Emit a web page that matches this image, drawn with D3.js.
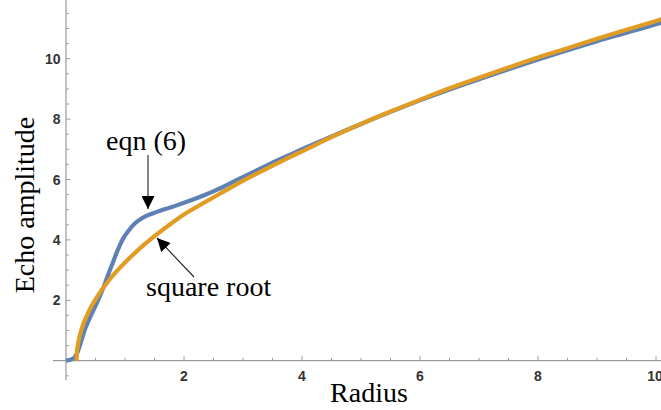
<!DOCTYPE html>
<html>
<head>
<meta charset="utf-8">
<script src="https://cdn.jsdelivr.net/npm/d3@7"></script>
<style>
	body { margin: 0; background: #fff; }
	svg { display: block; }
</style>
</head>
<body>
<div id="chart"></div>
<script>
// values
const eqnX = [0, 0.1, 0.15, 0.2, 0.25, 0.32, 0.4, 0.49, 0.57, 0.65, 0.72, 0.8, 0.88, 0.97, 1.07, 1.17, 1.28, 1.39, 1.53, 1.68, 1.9, 2.13, 2.33, 2.6, 2.89, 3.2, 3.46, 3.75, 4.02, 4.59, 5.04, 5.5, 6, 6.5, 7, 7.5, 8, 8.5, 9, 9.5, 10, 10.1]
const eqnY = [0, 0.05, 0.12, 0.3, 0.6, 1.03, 1.4, 1.77, 2.12, 2.5, 2.88, 3.28, 3.68, 4.05, 4.33, 4.55, 4.71, 4.82, 4.92, 5.02, 5.16, 5.32, 5.47, 5.7, 5.98, 6.27, 6.52, 6.78, 7.02, 7.5, 7.87, 8.24, 8.62, 8.98, 9.32, 9.65, 9.97, 10.28, 10.58, 10.86, 11.14, 11.2]

const sqrtX = [0.18, 0.185, 0.2, 0.22, 0.25, 0.29, 0.35, 0.42, 0.5, 0.6, 0.7, 0.8, 0.94, 1.1, 1.3, 1.51, 1.76, 2.0, 2.33, 2.6, 2.89, 3.2, 3.46, 3.75, 4.02, 4.5, 5.0, 5.5, 6.0, 6.5, 7.0, 7.5, 8.0, 8.5, 9.0, 9.5, 10.0, 10.1]
const sqrtY = [0, 0.3, 0.5, 0.72, 0.95, 1.2, 1.48, 1.76, 2.03, 2.33, 2.59, 2.83, 3.13, 3.44, 3.8, 4.14, 4.51, 4.84, 5.22, 5.52, 5.84, 6.16, 6.42, 6.7, 6.95, 7.4, 7.84, 8.25, 8.64, 9.02, 9.37, 9.71, 10.04, 10.35, 10.66, 10.96, 11.25, 11.31]

const xTicks = [2, 4, 6, 8, 10]
const yTicks = [2, 4, 6, 8, 10]

const width = 661
const height = 410

const x = d3.scaleLinear().domain([0, 10]).range([66, 656])
const y = d3.scaleLinear().domain([0, 10]).range([360.7, 58.7])

const svg = d3.select('#chart')
	.append('svg')
	.attr('width', width)
	.attr('height', height)

const axisColor = '#9a9a9a'
const tickFont = 'Liberation Sans, Arial, sans-serif'
const serif = 'Liberation Serif, Times New Roman, serif'

// minor ticks every 0.5
const minorX = d3.range(0.5, 10.01, 0.5).filter(v => !xTicks.includes(v))
const minorY = d3.range(-0.5, 11.51, 0.5).filter(v => v !== 0 && !yTicks.includes(v))

const axes = svg.append('g')

// x axis
axes.append('line')
	.attr('x1', x(-0.22)).attr('x2', width)
	.attr('y1', y(0)).attr('y2', y(0))
	.attr('stroke', axisColor).attr('stroke-width', 1.2)

axes.append('g').selectAll('line')
	.data(xTicks.concat(minorX))
	.join('line')
	.attr('x1', d => x(d)).attr('x2', d => x(d))
	.attr('y1', y(0))
	.attr('y2', d => y(0) - (xTicks.includes(d) ? 4.5 : 2.8))
	.attr('stroke', axisColor)

axes.append('g').selectAll('text')
	.data(xTicks)
	.join('text')
	.attr('x', d => d === 10 ? x(d) - 1 : x(d))
	.attr('y', 380.5)
	.attr('text-anchor', 'middle')
	.attr('font-family', tickFont)
	.attr('font-weight', 'bold')
	.attr('font-size', 14)
	.attr('fill', '#333')
	.text(d => d)

// y axis
axes.append('line')
	.attr('x1', x(0)).attr('x2', x(0))
	.attr('y1', y(-0.65)).attr('y2', 0)
	.attr('stroke', axisColor).attr('stroke-width', 1.2)

axes.append('g').selectAll('line')
	.data(yTicks.concat(minorY))
	.join('line')
	.attr('x1', x(0))
	.attr('x2', d => x(0) + (yTicks.includes(d) ? 4.5 : 2.8))
	.attr('y1', d => y(d)).attr('y2', d => y(d))
	.attr('stroke', axisColor)

axes.append('g').selectAll('text')
	.data(yTicks)
	.join('text')
	.attr('x', 60.5)
	.attr('y', d => y(d) + 5)
	.attr('text-anchor', 'end')
	.attr('font-family', tickFont)
	.attr('font-weight', 'bold')
	.attr('font-size', 14)
	.attr('fill', '#333')
	.text(d => d)

// axis titles
svg.append('text')
	.attr('x', 369)
	.attr('y', 402)
	.attr('text-anchor', 'middle')
	.attr('font-family', serif)
	.attr('font-size', 28)
	.attr('fill', '#000')
	.text('Radius')

svg.append('text')
	.attr('transform', 'translate(34,205) rotate(-90)')
	.attr('text-anchor', 'middle')
	.attr('font-family', serif)
	.attr('font-size', 28)
	.attr('fill', '#000')
	.text('Echo amplitude')

// curves
const line = d3.line()
	.x(d => x(d[0]))
	.y(d => y(d[1]))
	.curve(d3.curveMonotoneX)

svg.append('path')
	.datum(d3.zip(eqnX, eqnY))
	.attr('d', line)
	.attr('fill', 'none')
	.attr('stroke', '#5e81b5')
	.attr('stroke-width', 4.2)
	.attr('stroke-linejoin', 'round')

svg.append('path')
	.datum(d3.zip(sqrtX, sqrtY))
	.attr('d', line)
	.attr('fill', 'none')
	.attr('stroke', '#e19c24')
	.attr('stroke-width', 4.2)
	.attr('stroke-linejoin', 'round')

// annotations
svg.append('defs').append('marker')
	.attr('id', 'head')
	.attr('viewBox', '0 0 10 10')
	.attr('refX', 10).attr('refY', 5)
	.attr('markerWidth', 15).attr('markerHeight', 13)
	.attr('markerUnits', 'userSpaceOnUse')
	.attr('orient', 'auto')
	.append('path')
	.attr('d', 'M0,0 L10,5 L0,10 Z')
	.attr('fill', '#000')

svg.append('line')
	.attr('x1', 148).attr('y1', 155)
	.attr('x2', 148).attr('y2', 209)
	.attr('stroke', '#222').attr('stroke-width', 1.1)
	.attr('marker-end', 'url(#head)')

svg.append('line')
	.attr('x1', 194).attr('y1', 277)
	.attr('x2', 157).attr('y2', 238)
	.attr('stroke', '#222').attr('stroke-width', 1.1)
	.attr('marker-end', 'url(#head)')

svg.append('text')
	.attr('x', 106).attr('y', 150)
	.attr('font-family', serif)
	.attr('font-size', 28)
	.attr('fill', '#000')
	.text('eqn (6)')

svg.append('text')
	.attr('x', 146).attr('y', 296)
	.attr('font-family', serif)
	.attr('font-size', 28)
	.attr('fill', '#000')
	.text('square root')
</script>
</body>
</html>
